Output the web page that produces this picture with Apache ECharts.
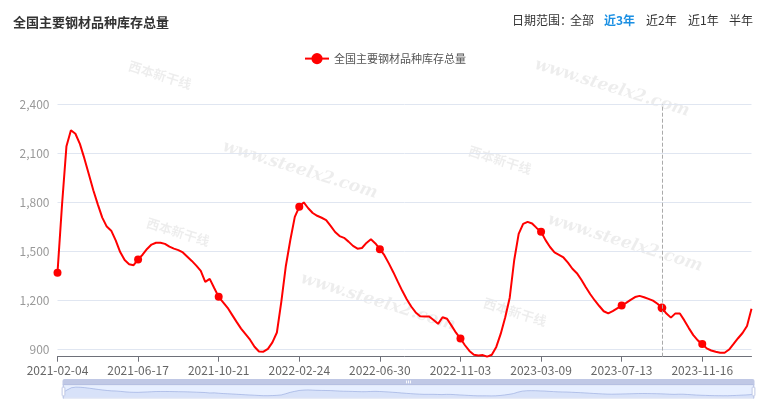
<!DOCTYPE html>
<html>
<head>
<meta charset="utf-8">
<script src="https://cdn.jsdelivr.net/npm/echarts@6/dist/echarts.min.js"></script>
<style>
html,body{margin:0;padding:0;background:#fff;}
#chart{width:770px;height:415px;}
</style>
</head>
<body>
<div id="chart"></div>
<script>
var chartTitle = '全国主要钢材品种库存总量';
var seriesName = '全国主要钢材品种库存总量';
var rangeLabel = '日期范围：';
var rangeButtons = ['全部', '近3年', '近2年', '近1年', '半年'];
var activeButton = '近3年';
var startDate = '2021-02-04';
var stepDays = 7;
var skippedDates = ['2021-02-11'];   // Spring Festival week without data

var inventory = [
  1370, 1781, 2144, 2241, 2220, 2158, 2069, 1972, 1874, 1788,
  1707, 1652, 1627, 1568, 1496, 1447, 1422, 1416, 1451, 1480,
  1515, 1542, 1553, 1553, 1546, 1529, 1517, 1508, 1494, 1468,
  1442, 1413, 1381, 1314, 1332, 1276, 1222, 1189, 1155, 1112,
  1069, 1028, 994, 960, 917, 888, 887, 904, 944, 1004,
  1195, 1411, 1570, 1711, 1773, 1800, 1764, 1735, 1718, 1706,
  1692, 1656, 1619, 1594, 1583, 1560, 1534, 1517, 1521, 1552,
  1574, 1549, 1514, 1477, 1427, 1373, 1315, 1259, 1208, 1163,
  1127, 1103, 1102, 1102, 1080, 1057, 1097, 1088, 1046, 1003,
  967, 926, 891, 868, 864, 866, 856, 868, 916, 997,
  1097, 1217, 1446, 1607, 1669, 1681, 1671, 1644, 1620, 1569,
  1527, 1494, 1479, 1463, 1432, 1394, 1367, 1327, 1281, 1238,
  1200, 1166, 1134, 1121, 1135, 1152, 1169, 1185, 1204, 1221,
  1228, 1220, 1210, 1199, 1180, 1155, 1120, 1095, 1121, 1120,
  1078, 1031, 988, 956, 934, 907, 894, 886, 880, 880,
  900, 934, 969, 1001, 1044, 1150
];

// weekly category dates (Thursdays), skipping weeks without data
var categories = [];
(function () {
  var t = new Date(startDate + 'T00:00:00Z').getTime();
  while (categories.length < inventory.length) {
    var d = new Date(t);
    var s = d.getUTCFullYear() + '-' + ('0' + (d.getUTCMonth() + 1)).slice(-2) + '-' + ('0' + d.getUTCDate()).slice(-2);
    if (skippedDates.indexOf(s) < 0) categories.push(s);
    t += stepDays * 86400000;
  }
})();

var hoverIndex = 135;

var watermarkUrls = [
  {x: 300, y: 170}, {x: 612, y: 88}, {x: 378, y: 302}, {x: 625, y: 243}
];
var watermarkLogos = [
  {x: 178, y: 232}, {x: 500, y: 160}, {x: 515, y: 312}, {x: 160, y: 75}
];

var FONT = '"Noto Sans CJK SC", "Microsoft YaHei", sans-serif';
var chart = echarts.init(document.getElementById('chart'), null, {renderer: 'canvas'});

var graphics = [];
watermarkUrls.forEach(function (p) {
  graphics.push({
    type: 'text', x: p.x, y: p.y, rotation: -0.3, z: 0, silent: true,
    style: {text: 'www.steelx2.com', fill: 'rgba(0,0,0,0.07)', font: 'italic bold 17px "DejaVu Serif", serif', textAlign: 'center', textVerticalAlign: 'middle'}
  });
});
watermarkLogos.forEach(function (p) {
  graphics.push({
    type: 'text', x: p.x, y: p.y, rotation: -0.3, z: 0, silent: true,
    style: {text: '西本新干线', fill: 'rgba(0,0,0,0.07)', font: 'bold 13px ' + FONT, textAlign: 'center', textVerticalAlign: 'middle'}
  });
});
graphics.push({
  type: 'text', left: 512, top: 14, z: 10,
  style: {text: rangeLabel, fill: '#333', font: '12px ' + FONT}
});
var btnX = [570, 604, 646, 688, 729];
rangeButtons.forEach(function (b, i) {
  var active = b === activeButton;
  graphics.push({
    type: 'text', left: btnX[i], top: 14, z: 10,
    style: {text: b, fill: active ? '#1a8fe3' : '#333', font: (active ? 'bold ' : '') + '12px ' + FONT}
  });
});

var option = {
  animation: false,
  textStyle: {fontFamily: FONT},
  title: {
    text: chartTitle, left: 8, top: 11,
    textStyle: {fontSize: 13, fontWeight: 'bold', color: '#333', fontFamily: FONT}
  },
  legend: {
    top: 48, left: 'center',
    itemWidth: 24, itemHeight: 14, itemGap: 10,
    textStyle: {fontSize: 11, color: '#555', fontFamily: FONT},
    data: [seriesName]
  },
  tooltip: {
    trigger: 'axis', showContent: false,
    axisPointer: {type: 'line', lineStyle: {color: '#aaa', type: 'dashed', width: 1}}
  },
  grid: {left: 57.5, right: 18.5, top: 104.3, bottom: 58.3, containLabel: false},
  xAxis: {
    type: 'category', boundaryGap: false, data: categories,
    axisLine: {lineStyle: {color: '#6E7079'}},
    axisTick: {interval: 17},
    axisLabel: {interval: 17, color: '#666', fontSize: 12, margin: 8, fontFamily: FONT}
  },
  yAxis: {
    type: 'value', min: 'dataMin', max: 2400,
    axisLine: {show: false}, axisTick: {show: false},
    splitLine: {lineStyle: {color: '#E0E6F1'}},
    axisLabel: {
      showMinLabel: false, color: '#999', fontSize: 12, margin: 8, fontFamily: FONT,
      formatter: function (v) { return echarts.format.addCommas(v); }
    }
  },
  dataZoom: [{
    type: 'slider', start: 0, end: 100, xAxisIndex: 0,
    left: 60, right: 18, top: 379, height: 14,
    moveHandleSize: 6,
    showDetail: false
  }],
  graphic: graphics,
  series: [{
    name: seriesName, type: 'line', data: inventory,
    symbol: 'circle', symbolSize: 8, showAllSymbol: 'auto',
    itemStyle: {color: '#ff0000'},
    lineStyle: {color: '#ff0000', width: 2},
    emphasis: {scale: true}
  }]
};
chart.setOption(option);
chart.dispatchAction({type: 'showTip', seriesIndex: 0, dataIndex: hoverIndex});
</script>
</body>
</html>
